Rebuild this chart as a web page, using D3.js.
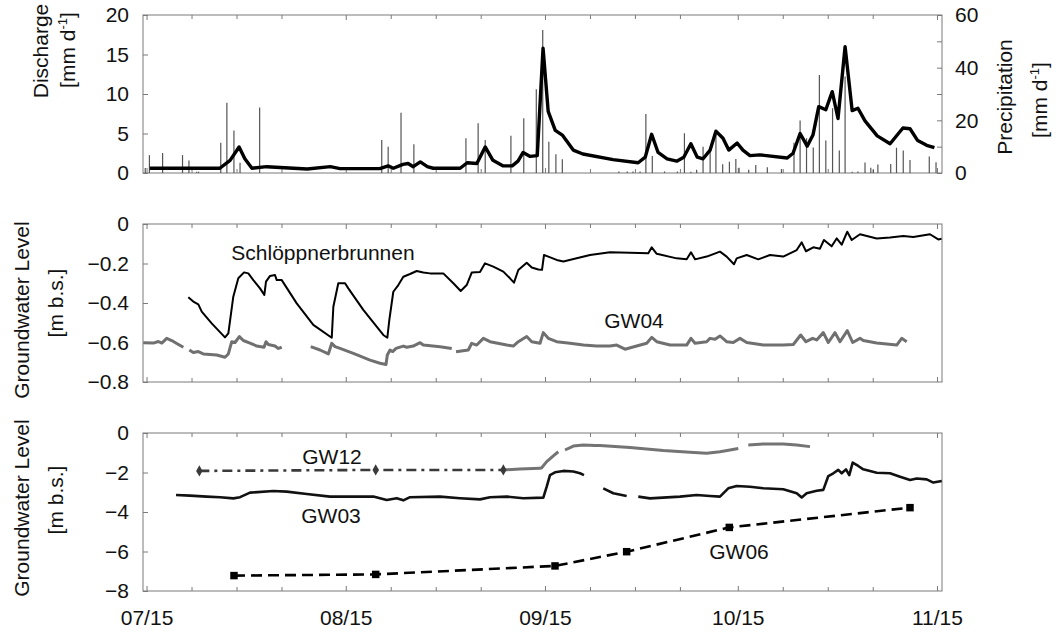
<!DOCTYPE html>
<html>
<head>
<meta charset="utf-8">
<script src="https://cdn.jsdelivr.net/npm/d3@7"></script>
<style>
  body { margin: 0; background: #fff; }
  text { font-family: "Liberation Sans", Arial, sans-serif; fill: #111; }
</style>
</head>
<body>
<svg id="chart" width="1056" height="634"></svg>
<script>
// ---- time base: all series are given as days after 15 July ----
const startDate = Date.UTC(2009, 6, 15);
const tickLabels = ["07/15", "08/15", "09/15", "10/15", "11/15"];

// daily discharge [day, mm/d]
const discharge = [
  [0.5, 0.6], [11.4, 0.6], [13.0, 1.6], [14.4, 3.3], [15.3, 1.8], [16.4, 0.6],
  [18.7, 0.8], [25.0, 0.5], [28.6, 0.8], [30.1, 0.55], [36.3, 0.55], [37.6, 0.9],
  [38.4, 0.6], [39.9, 1.1], [40.7, 1.2], [41.5, 0.8], [42.6, 1.4], [43.7, 0.8],
  [44.6, 0.6], [48.8, 0.6], [49.9, 1.3], [51.4, 1.2], [52.7, 3.3], [53.9, 1.6],
  [55.5, 0.9], [56.9, 0.9], [57.8, 1.5], [58.6, 2.6], [59.7, 2.1], [60.8, 2.2],
  [61.7, 15.8], [62.5, 7.8], [63.6, 5.4], [64.7, 4.8], [66.4, 2.9], [67.9, 2.4],
  [72.6, 1.7], [76.5, 1.3], [77.6, 2.0], [78.6, 4.9], [79.6, 2.6], [81.0, 1.8],
  [82.5, 1.5], [83.6, 2.0], [84.7, 3.7], [85.7, 2.0], [86.6, 1.8], [87.7, 2.9],
  [88.6, 5.3], [89.7, 4.4], [90.6, 2.9], [91.9, 3.8], [92.8, 2.9], [93.9, 2.2],
  [95.4, 2.3], [99.7, 1.9], [100.6, 2.5], [101.7, 5.0], [102.8, 3.4], [103.7, 4.8],
  [104.6, 8.4], [105.7, 8.0], [106.7, 10.3], [107.6, 6.9], [108.7, 16.0], [109.8, 7.9],
  [110.7, 8.2], [111.8, 6.6], [113.7, 4.7], [115.7, 3.7], [117.7, 5.7], [118.8, 5.6],
  [120.0, 4.1], [121.4, 3.5], [122.6, 3.2]
];

// daily precipitation [day, mm/d]
const precipitation = [
  [-0.2, 1.9], [0.45, 6.8], [2.5, 7.6], [5.6, 6.8], [6.6, 4.7], [7.8, 0.5], [8.1, 0.5],
  [11.55, 11.5], [12.5, 26.7], [13.6, 16.1], [14.55, 3.9], [17.6, 24.9],
  [36.6, 12.5], [37.6, 10.0], [39.6, 22.9], [41.6, 10.9],
  [49.7, 13.2], [51.6, 18.9], [52.7, 12.5], [56.7, 14.1], [58.7, 20.8], [60.65, 31.8],
  [61.65, 54.3], [62.6, 11.9], [63.7, 7.1], [64.7, 5.2],
  [73.5, 0.6], [74.8, 0.6], [75.7, 0.6], [76.8, 0.6],
  [77.7, 22.4], [78.7, 6.5], [80.6, 0.6], [82.6, 0.6], [83.7, 15.1], [84.7, 0.5], [85.6, 1.2],
  [86.6, 10.0], [87.7, 8.1], [88.6, 15.7], [89.65, 3.3], [90.7, 4.3], [91.7, 5.3],
  [92.2, 2.0], [93.7, 1.2], [94.8, 3.0], [96.6, 2.2], [98.8, 1.5],
  [100.75, 11.5], [101.7, 19.9], [102.7, 13.2], [103.75, 9.7], [104.7, 37.2], [105.7, 12.3],
  [106.75, 24.6], [107.8, 8.5], [108.7, 36.6], [109.8, 0.5], [110.7, 0.6],
  [111.8, 4.0], [112.7, 2.0], [113.1, 1.2], [113.8, 3.2], [115.8, 3.4], [116.7, 9.6],
  [117.75, 8.5], [118.8, 4.9], [121.8, 6.3], [122.85, 4.1]
];

// groundwater level, Schlöppnerbrunnen [day, m b.s.]
const schloeppner = [
  [6.50, -0.371], [7.28, -0.393], [8.06, -0.407], [8.59, -0.444], [10.14, -0.503],
  [12.21, -0.574], [12.73, -0.554], [13.50, -0.368], [14.28, -0.275], [15.17, -0.245],
  [15.84, -0.250], [16.62, -0.284], [17.66, -0.326], [18.33, -0.359], [18.59, -0.292],
  [19.22, -0.263], [19.99, -0.258], [20.26, -0.284], [21.04, -0.284], [23.37, -0.402],
  [25.95, -0.511], [28.82, -0.576], [29.07, -0.419], [29.84, -0.300], [30.89, -0.300],
  [31.40, -0.326], [33.73, -0.435], [36.84, -0.562], [37.47, -0.576], [37.78, -0.486],
  [38.40, -0.343], [39.18, -0.309], [39.96, -0.267], [41.00, -0.253], [42.04, -0.238],
  [43.07, -0.246], [44.11, -0.250], [46.18, -0.250], [47.74, -0.300], [48.89, -0.339],
  [49.82, -0.309], [50.60, -0.246], [51.89, -0.243], [52.67, -0.199], [53.96, -0.216],
  [55.52, -0.241], [56.56, -0.275], [57.18, -0.297], [57.85, -0.233], [59.16, -0.196],
  [59.94, -0.220], [60.97, -0.230], [61.54, -0.232], [61.85, -0.157], [62.52, -0.165],
  [63.82, -0.182], [64.86, -0.190], [69.01, -0.157], [72.12, -0.143], [75.23, -0.145],
  [78.08, -0.148], [78.61, -0.118], [79.39, -0.151], [82.50, -0.174], [84.05, -0.179],
  [84.72, -0.143], [85.35, -0.179], [87.16, -0.165], [89.23, -0.140], [90.27, -0.165],
  [91.41, -0.204], [91.83, -0.174], [93.39, -0.157], [95.19, -0.179], [97.01, -0.157],
  [99.08, -0.165], [101.17, -0.132], [101.95, -0.093], [102.61, -0.138], [103.75, -0.118],
  [104.79, -0.125], [105.41, -0.081], [106.61, -0.113], [107.39, -0.073], [108.17, -0.105],
  [109.04, -0.039], [109.73, -0.081], [111.02, -0.052], [113.62, -0.073], [115.69, -0.068],
  [117.76, -0.061], [119.31, -0.066], [121.91, -0.052], [123.20, -0.078], [123.7, -0.075]
];

// groundwater level, GW04 (null marks a data gap)
const gw04 = [
  [-0.5, -0.601], [1.06, -0.603], [1.84, -0.595], [2.37, -0.603], [3.14, -0.579],
  [3.92, -0.590], [4.70, -0.605], [5.73, -0.624], [6.2, null],
  [6.66, -0.638], [7.28, -0.651], [8.06, -0.646], [8.84, -0.658], [10.92, -0.663],
  [12.21, -0.675], [12.73, -0.658], [13.26, -0.596], [13.77, -0.600], [14.44, -0.570],
  [15.06, -0.590], [16.10, -0.603], [17.15, -0.618], [18.28, -0.624], [18.59, -0.596],
  [18.95, -0.610], [19.99, -0.618], [20.51, -0.630], [21.04, -0.624], [23.0, null],
  [25.55, -0.621], [27.00, -0.638], [28.29, -0.658], [28.82, -0.604], [29.33, -0.621],
  [30.11, -0.630], [32.18, -0.655], [34.78, -0.689], [36.33, -0.705], [37.26, -0.711],
  [37.47, -0.663], [37.89, -0.638], [38.31, -0.646], [38.82, -0.630], [39.96, -0.618],
  [40.49, -0.624], [41.51, -0.618], [42.56, -0.601], [43.07, -0.613], [45.67, -0.621],
  [47.49, -0.630], [47.8, null],
  [48.16, -0.647], [50.07, -0.638], [50.60, -0.604], [51.38, -0.613], [52.41, -0.579],
  [53.45, -0.596], [56.05, -0.613], [57.07, -0.618], [57.85, -0.596], [59.16, -0.570],
  [59.94, -0.596], [61.23, -0.604], [61.74, -0.550], [62.52, -0.579], [63.82, -0.596],
  [65.90, -0.604], [67.97, -0.613], [70.05, -0.618], [72.12, -0.618], [73.16, -0.613],
  [74.45, -0.634], [76.27, -0.618], [77.83, -0.604], [78.61, -0.574], [79.39, -0.596],
  [81.46, -0.613], [84.05, -0.613], [84.72, -0.579], [85.35, -0.604], [87.16, -0.596],
  [87.68, -0.579], [88.46, -0.584], [89.23, -0.567], [90.27, -0.596], [91.30, -0.600],
  [92.34, -0.579], [93.39, -0.600], [95.97, -0.613], [99.08, -0.613], [100.64, -0.610],
  [101.79, -0.562], [102.61, -0.596], [103.66, -0.579], [104.28, -0.587], [105.31, -0.550],
  [106.09, -0.600], [107.13, -0.550], [107.91, -0.596], [109.04, -0.540], [109.88, -0.600],
  [111.02, -0.579], [111.53, -0.590], [113.62, -0.603], [116.73, -0.613], [117.51, -0.579],
  [118.29, -0.596]
];

// GW12: manual readings (dash-dot) and logger record
const gw12Manual = [[8.22, -1.92], [35.66, -1.87], [55.52, -1.87]];
const gw12Logger = [
  [55.52, -1.87], [58.11, -1.82], [61.23, -1.79], [61.49, -1.76], [62.27, -1.45],
  [63.30, -1.16], [64.07, -0.95], [64.5, null], [65.12, -0.86], [66.41, -0.66],
  [67.97, -0.61], [69.79, -0.63], [70.56, -0.63], [75.23, -0.74], [80.41, -0.89],
  [84.57, -0.98], [87.16, -1.03], [89.23, -0.95], [90.79, -0.86], [92.08, -0.78],
  [92.8, null], [93.64, -0.61], [95.97, -0.56], [99.08, -0.56], [101.17, -0.61],
  [103.23, -0.69]
];

// GW03 logger record
const gw03 = [
  [4.59, -3.14], [6.77, -3.17], [9.37, -3.22], [11.44, -3.25], [13.51, -3.31],
  [14.55, -3.25], [16.10, -3.02], [19.73, -2.94], [21.81, -2.97], [24.93, -3.09],
  [28.55, -3.22], [32.71, -3.22], [35.29, -3.22], [37.37, -3.39], [38.93, -3.30],
  [39.96, -3.41], [41.00, -3.25], [45.67, -3.22], [48.78, -3.30], [51.89, -3.36],
  [53.45, -3.25], [56.05, -3.22], [58.63, -3.30], [61.74, -3.27], [62.27, -2.72],
  [62.78, -2.13], [63.56, -1.99], [64.86, -1.92], [66.41, -1.95], [67.45, -2.04],
  [68.07, -2.13], [69.5, null],
  [71.07, -2.80], [72.63, -3.05], [74.71, -3.19], [75.6, null],
  [76.52, -3.22], [78.34, -3.31], [83.01, -3.22], [85.61, -3.14], [87.68, -3.19],
  [89.23, -3.22], [90.52, -2.80], [91.83, -2.68], [93.90, -2.72], [95.97, -2.80],
  [99.08, -2.85], [101.17, -3.05], [101.95, -3.26], [102.72, -3.05], [104.28, -2.92],
  [105.31, -2.88], [106.09, -2.18], [106.87, -2.04], [107.64, -1.87], [108.17, -2.04],
  [108.84, -1.84], [109.35, -2.13], [109.88, -1.50], [110.75, -1.67], [111.53, -1.84],
  [113.62, -2.01], [115.69, -2.04], [117.25, -2.21], [118.81, -2.38], [119.85, -2.30],
  [121.40, -2.35], [122.43, -2.51], [123.74, -2.43]
];

// GW06 manual readings
const gw06 = [[13.61, -7.22], [35.66, -7.16], [63.56, -6.73], [74.71, -6.01], [90.68, -4.78], [118.80, -3.78]];

// axis ticks
const dischargeTicks = [0, 5, 10, 15, 20];
const precipTicks = [0, 10, 20, 30, 40, 50, 60];
const gwShallowTicks = [0, -0.2, -0.4, -0.6, -0.8];
const gwDeepTicks = [0, -2, -4, -6, -8];

// ---- layout ----
const W = 1056, H = 634;
const left = 143, right = 942;
const panels = [
  { top: 15, bottom: 173 },
  { top: 224, bottom: 382 },
  { top: 433, bottom: 591 }
];
const axisColor = "#7a7a7a";
const fontSize = 21;

const svg = d3.select("#chart");
svg.append("rect").attr("width", W).attr("height", H).attr("fill", "#fff");

const day = d => new Date(startDate + d * 864e5);
const x = d3.scaleUtc().domain([day(-0.55), day(123.78)]).range([left, right]);

// month ticks on the 15th, weekly minor ticks in between
const majorDates = tickLabels.map(s => {
  const [m, dd] = s.split("/").map(Number);
  return new Date(Date.UTC(2009, m - 1, dd));
});
const minorDates = [];
majorDates.slice(0, -1).forEach(d0 => {
  [7, 14, 21].forEach(k => minorDates.push(d3.utcDay.offset(d0, k)));
});
const fmt = d3.utcFormat("%m/%d");

const yQ = d3.scaleLinear().domain([0, 20]).range([panels[0].bottom, panels[0].top]);
const yP = d3.scaleLinear().domain([0, 60]).range([panels[0].bottom, panels[0].top]);
const yS = d3.scaleLinear().domain([-0.8, 0]).range([panels[1].bottom, panels[1].top]);
const yD = d3.scaleLinear().domain([-8, 0]).range([panels[2].bottom, panels[2].top]);

function styleAxis(g) {
  g.select(".domain").remove();
  g.selectAll(".tick line").attr("stroke", axisColor).attr("stroke-width", 1);
  g.selectAll(".tick text").attr("font-size", fontSize).attr("fill", "#111")
    .attr("font-family", "Liberation Sans, Arial, sans-serif");
}

function frame(p, yScale, yTicks, yFmt, showDates) {
  const g = svg.append("g");
  // x ticks top & bottom (inward)
  [[d3.axisBottom, p.bottom], [d3.axisTop, p.top]].forEach(([ax, yy], i) => {
    g.append("g").attr("transform", `translate(0,${yy})`)
      .call(ax(x).tickValues(minorDates).tickSize(-4).tickFormat(""))
      .call(styleAxis);
    const major = g.append("g").attr("transform", `translate(0,${yy})`)
      .call(ax(x).tickValues(majorDates).tickSize(-5).tickPadding(19)
        .tickFormat(i === 0 && showDates ? fmt : ""))
      .call(styleAxis);
  });
  g.append("g").attr("transform", `translate(${left},0)`)
    .call(d3.axisLeft(yScale).tickValues(yTicks).tickSize(-5).tickPadding(14).tickFormat(yFmt))
    .call(styleAxis);
  g.append("rect").attr("x", left).attr("y", p.top)
    .attr("width", right - left).attr("height", p.bottom - p.top)
    .attr("fill", "none").attr("stroke", axisColor).attr("stroke-width", 1);
  return g;
}

const plainFmt = d => d3.format("")(+d.toFixed(1));
frame(panels[0], yQ, dischargeTicks, d3.format("d"), false);
frame(panels[1], yS, gwShallowTicks, plainFmt, false);
frame(panels[2], yD, gwDeepTicks, d3.format("d"), true);

// right axis: precipitation
svg.append("g").attr("transform", `translate(${right},0)`)
  .call(d3.axisRight(yP).tickValues(precipTicks).tickSize(-5).tickPadding(13)
    .tickFormat(d => d % 20 === 0 ? d : ""))
  .call(styleAxis);

// ---- top panel: precipitation bars and discharge ----
const topG = svg.append("g");
topG.selectAll("line.precip").data(precipitation).join("line")
  .attr("class", "precip")
  .attr("x1", d => x(day(d[0]))).attr("x2", d => x(day(d[0])))
  .attr("y1", yP(0)).attr("y2", d => yP(d[1]))
  .attr("stroke", "#555").attr("stroke-width", 1.2);

const lineOf = (ys) => d3.line()
  .defined(d => d[1] !== null)
  .x(d => x(day(d[0]))).y(d => ys(d[1]));

topG.append("path").datum(discharge)
  .attr("d", lineOf(yQ))
  .attr("fill", "none").attr("stroke", "#000").attr("stroke-width", 3.4)
  .attr("stroke-linejoin", "round");

// ---- middle panel ----
svg.append("path").datum(gw04)
  .attr("d", lineOf(yS))
  .attr("fill", "none").attr("stroke", "#707070").attr("stroke-width", 3)
  .attr("stroke-linejoin", "round");
svg.append("path").datum(schloeppner)
  .attr("d", lineOf(yS))
  .attr("fill", "none").attr("stroke", "#000").attr("stroke-width", 2)
  .attr("stroke-linejoin", "round");

// ---- bottom panel ----
svg.append("path").datum(gw12Manual)
  .attr("d", lineOf(yD))
  .attr("fill", "none").attr("stroke", "#3a3a3a").attr("stroke-width", 2.6)
  .attr("stroke-dasharray", "10,5,3,5");
svg.append("path").datum(gw12Logger)
  .attr("d", lineOf(yD))
  .attr("fill", "none").attr("stroke", "#747474").attr("stroke-width", 3)
  .attr("stroke-linejoin", "round");
svg.selectAll("path.gw12m").data(gw12Manual).join("path")
  .attr("class", "gw12m")
  .attr("transform", d => `translate(${x(day(d[0]))},${yD(d[1])})`)
  .attr("d", d3.symbol(d3.symbolDiamond, 36))
  .attr("fill", "#3a3a3a");

svg.append("path").datum(gw03)
  .attr("d", lineOf(yD))
  .attr("fill", "none").attr("stroke", "#111").attr("stroke-width", 2.6)
  .attr("stroke-linejoin", "round");

svg.append("path").datum(gw06)
  .attr("d", lineOf(yD))
  .attr("fill", "none").attr("stroke", "#000").attr("stroke-width", 2.6)
  .attr("stroke-dasharray", "11,6");
svg.selectAll("path.gw06m").data(gw06).join("path")
  .attr("class", "gw06m")
  .attr("transform", d => `translate(${x(day(d[0]))},${yD(d[1])})`)
  .attr("d", d3.symbol(d3.symbolSquare, 56))
  .attr("fill", "#000");

// ---- series labels ----
const seriesLabels = [
  ["Schlöppnerbrunnen", 323, 253], ["GW04", 634, 321],
  ["GW12", 332, 457], ["GW03", 331, 516], ["GW06", 739, 552]
];
svg.selectAll("text.series").data(seriesLabels).join("text")
  .attr("class", "series")
  .attr("x", d => d[1]).attr("y", d => d[2]).attr("dy", "0.35em")
  .attr("text-anchor", "middle").attr("font-size", fontSize)
  .text(d => d[0]);

// ---- axis titles (rotated) ----
function vTitle(cx, cy, build) {
  const t = svg.append("text")
    .attr("transform", `translate(${cx},${cy}) rotate(-90)`)
    .attr("text-anchor", "middle").attr("dy", "0.35em")
    .attr("font-size", fontSize);
  build(t);
}
const plain = s => t => t.text(s);
const perDay = t => {
  t.append("tspan").text("[mm d");
  t.append("tspan").attr("font-size", 13).attr("dy", -8).text("-1");
  t.append("tspan").attr("dy", 8).text("]");
};
vTitle(41, 51, plain("Discharge"));
vTitle(68, 50, perDay);
vTitle(1005, 97, plain("Precipitation"));
vTitle(1040, 100, perDay);
vTitle(22, 310, plain("Groundwater Level"));
vTitle(56, 303, plain("[m b.s.]"));
vTitle(22, 508, plain("Groundwater Level"));
vTitle(56, 500, plain("[m b.s.]"));
</script>
</body>
</html>
